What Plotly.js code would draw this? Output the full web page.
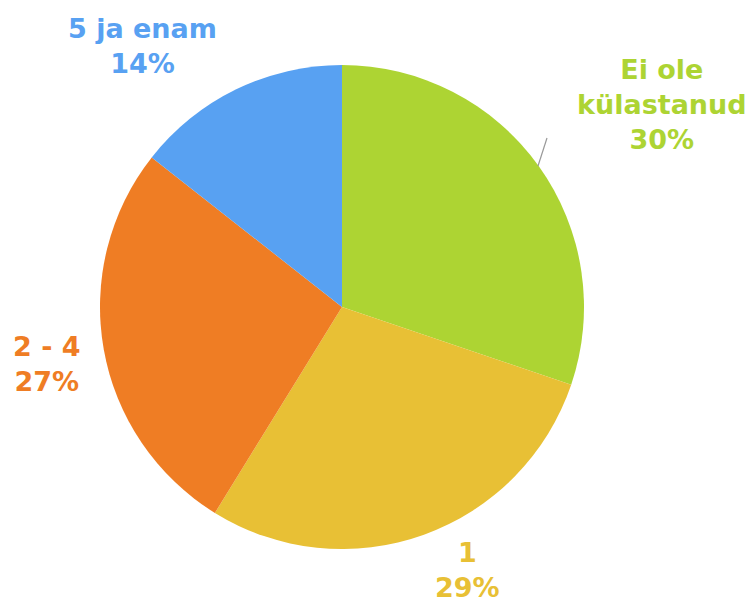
<!DOCTYPE html>
<html><head><meta charset="utf-8">
<script src="https://cdn.plot.ly/plotly-3.0.1.min.js"></script>
<style>html,body{margin:0;padding:0;background:#fff}#chart{width:751px;height:603px}</style>
</head><body><div id="chart"></div>
<script>
var categories = ["Ei ole<br>külastanud", "1", "2 - 4", "5 ja enam"];
var values = [30.2, 28.6, 26.8, 14.4];
var colors = ["#ADD433", "#E8C035", "#EF7D24", "#58A1F2"];

var W = 751, H = 603;
var cx = 342, cy = 307, r = 242;
var labelPos = [[662, 105], [467, 570], [47, 364], [142, 46]];

var total = values.reduce(function(a, b){ return a + b; }, 0);
var annotations = categories.map(function(c, i){
  return {
    xref: 'paper', yref: 'paper',
    x: labelPos[i][0] / W, y: 1 - labelPos[i][1] / H,
    xanchor: 'center', yanchor: 'middle',
    text: c + '<br>' + Math.round(values[i] / total * 100) + '%',
    showarrow: false,
    font: {family: '"DejaVu Sans", sans-serif', size: 27, color: colors[i], weight: 'bold'}
  };
});

var data = [{
  type: 'pie',
  labels: categories,
  values: values,
  sort: false,
  direction: 'clockwise',
  rotation: 0,
  textinfo: 'none',
  hoverinfo: 'label+percent',
  marker: {colors: colors, line: {width: 0}},
  domain: {x: [(cx - r) / W, (cx + r) / W], y: [1 - (cy + r) / H, 1 - (cy - r) / H]}
}];

var layout = {
  width: W, height: H,
  margin: {l: 0, r: 0, t: 0, b: 0},
  showlegend: false,
  paper_bgcolor: '#fff',
  annotations: annotations,
  shapes: [{type: 'line', xref: 'paper', yref: 'paper',
    x0: 547 / W, y0: 1 - 138 / H, x1: 538 / W, y1: 1 - 166 / H,
    line: {color: '#999', width: 1.2}}]
};
Plotly.newPlot('chart', data, layout, {displayModeBar: false});
</script></body></html>
